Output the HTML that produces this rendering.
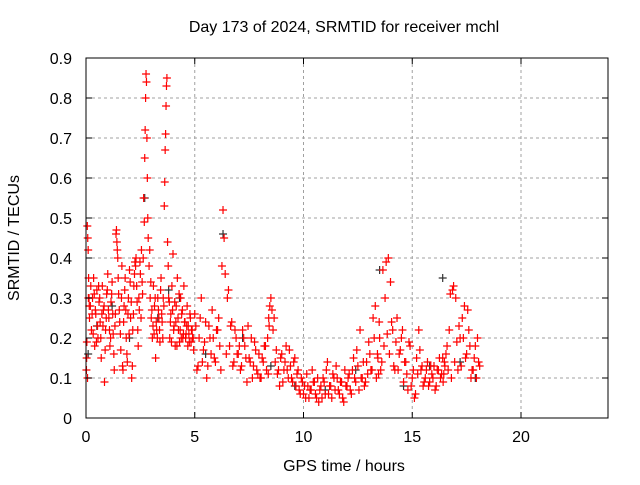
<!DOCTYPE html>
<html><head><meta charset="utf-8"><style>
body{margin:0;background:#fff;font-family:"Liberation Sans",sans-serif;}
svg text{font-family:"Liberation Sans",sans-serif;font-size:16px;fill:#000;}
</style></head><body>
<svg id="chart" width="640" height="480" xmlns="http://www.w3.org/2000/svg">
<rect width="640" height="480" fill="#fff"/>
<text x="344" y="32" text-anchor="middle">Day 173 of 2024, SRMTID for receiver mchl</text>
<text transform="translate(19,238) rotate(-90)" text-anchor="middle">SRMTID / TECUs</text>
<text x="344" y="471" text-anchor="middle">GPS time / hours</text>
<g id="grid"></g><g id="marks"></g><g id="axes"></g>
</svg>
<script>
const xTicks=[0,5,10,15,20];
const yTicks=[0,0.1,0.2,0.3,0.4,0.5,0.6,0.7,0.8,0.9];
const yTickLabels=["0","0.1","0.2","0.3","0.4","0.5","0.6","0.7","0.8","0.9"];
const redTimes=[0.02,0.04,0.06,0.08,0.1,0.12,0.14,0.16,0.2,0.25,0.3,0.35,0.4,0.45,0.5,0.55,0.6,0.65,0.7,0.75,0.8,0.85,0.9,0.95,1.0,1.05,1.1,1.15,1.2,1.25,1.3,1.35,1.4,1.42,1.44,1.46,1.5,1.55,1.6,1.65,1.7,1.75,1.8,1.85,1.9,1.95,2.0,2.05,2.1,2.15,2.2,2.25,2.3,2.35,2.4,2.45,2.5,2.55,2.6,2.65,2.7,2.72,2.74,2.76,2.78,2.8,2.82,2.84,2.86,2.9,2.95,3.0,3.05,3.1,3.15,3.2,3.25,3.3,3.35,3.4,3.45,3.5,3.55,3.6,3.62,3.64,3.66,3.68,3.7,3.72,3.75,3.8,3.85,3.9,3.95,4.0,4.05,4.1,4.15,4.2,4.25,4.3,4.35,4.4,4.45,4.5,4.55,4.6,4.65,4.7,4.75,4.8,4.85,4.9,4.95,5.0,5.1,5.2,5.3,5.4,5.5,5.6,5.7,5.8,5.9,6.0,6.1,6.2,6.25,6.3,6.35,6.4,6.5,6.6,6.7,6.8,6.9,7.0,7.1,7.2,7.3,7.4,7.5,7.6,7.7,7.8,7.9,8.0,8.1,8.2,8.3,8.35,8.4,8.45,8.5,8.6,8.7,8.8,8.9,9.0,9.1,9.2,9.3,9.4,9.5,9.6,9.7,9.8,9.9,10.0,10.1,10.2,10.3,10.4,10.5,10.6,10.7,10.8,10.9,11.0,11.1,11.2,11.3,11.4,11.5,11.6,11.7,11.8,11.9,12.0,12.1,12.2,12.3,12.4,12.5,12.6,12.7,12.8,12.9,13.0,13.1,13.2,13.3,13.4,13.45,13.5,13.6,13.7,13.8,13.9,14.0,14.1,14.2,14.3,14.4,14.5,14.6,14.7,14.8,14.9,15.0,15.1,15.2,15.3,15.4,15.5,15.6,15.7,15.8,15.9,16.0,16.1,16.2,16.3,16.4,16.45,16.5,16.6,16.7,16.8,16.9,17.0,17.1,17.2,17.3,17.4,17.5,17.6,17.7,17.8,17.9,18.0,18.1];
const redValues=[0.12,0.19,0.48,0.45,0.42,0.35,0.3,0.25,0.28,0.22,0.3,0.35,0.18,0.26,0.32,0.2,0.29,0.24,0.15,0.33,0.27,0.09,0.22,0.31,0.36,0.25,0.18,0.29,0.34,0.21,0.12,0.26,0.47,0.44,0.42,0.4,0.31,0.24,0.17,0.38,0.12,0.28,0.35,0.2,0.14,0.3,0.37,0.25,0.1,0.22,0.33,0.39,0.4,0.29,0.18,0.27,0.36,0.42,0.31,0.55,0.65,0.72,0.8,0.86,0.84,0.7,0.6,0.5,0.45,0.38,0.3,0.25,0.2,0.33,0.28,0.15,0.22,0.3,0.25,0.19,0.35,0.24,0.3,0.53,0.59,0.67,0.71,0.78,0.83,0.85,0.44,0.3,0.2,0.26,0.33,0.41,0.23,0.18,0.28,0.35,0.22,0.19,0.3,0.26,0.2,0.33,0.24,0.21,0.28,0.23,0.19,0.25,0.22,0.2,0.17,0.26,0.12,0.2,0.3,0.17,0.24,0.13,0.2,0.27,0.15,0.22,0.25,0.12,0.38,0.52,0.45,0.36,0.3,0.18,0.24,0.14,0.2,0.16,0.12,0.22,0.18,0.09,0.15,0.2,0.13,0.17,0.11,0.1,0.15,0.18,0.12,0.2,0.25,0.28,0.3,0.22,0.14,0.11,0.08,0.16,0.12,0.18,0.1,0.13,0.09,0.15,0.11,0.07,0.1,0.06,0.05,0.08,0.07,0.12,0.09,0.05,0.04,0.08,0.1,0.06,0.14,0.08,0.05,0.1,0.13,0.07,0.09,0.05,0.12,0.08,0.11,0.06,0.15,0.09,0.13,0.22,0.1,0.08,0.14,0.19,0.12,0.25,0.28,0.16,0.11,0.2,0.14,0.18,0.39,0.4,0.34,0.22,0.12,0.25,0.16,0.2,0.09,0.14,0.07,0.18,0.1,0.05,0.15,0.22,0.12,0.08,0.1,0.14,0.09,0.11,0.13,0.08,0.12,0.1,0.15,0.11,0.13,0.18,0.22,0.1,0.33,0.3,0.12,0.2,0.25,0.28,0.16,0.22,0.1,0.12,0.18,0.2,0.13,0.09,0.11,0.12,0.1,0.09];
const red2Times=[0.03,0.07,0.11,0.15,0.22,0.28,0.33,0.38,0.43,0.48,0.53,0.58,0.63,0.68,0.73,0.78,0.83,0.88,0.93,0.98,1.03,1.08,1.13,1.18,1.23,1.28,1.33,1.38,1.48,1.53,1.58,1.63,1.68,1.73,1.78,1.83,1.88,1.93,1.98,2.03,2.08,2.13,2.18,2.23,2.28,2.33,2.38,2.43,2.48,2.53,2.58,2.63,2.68,2.93,2.98,3.03,3.08,3.13,3.18,3.23,3.28,3.33,3.38,3.43,3.48,3.53,3.58,3.78,3.83,3.88,3.93,3.98,4.03,4.08,4.13,4.18,4.23,4.28,4.33,4.38,4.43,4.48,4.53,4.58,4.63,4.68,4.73,4.78,4.83,4.88,4.93,5.05,5.15,5.25,5.35,5.45,5.55,5.65,5.75,5.85,5.95,6.05,6.15,6.45,6.55,6.65,6.75,6.85,6.95,7.05,7.15,7.25,7.35,7.45,7.55,7.65,7.75,7.85,7.95,8.05,8.15,8.25,8.38,8.42,8.55,8.65,8.75,8.85,8.95,9.05,9.15,9.25,9.35,9.45,9.55,9.65,9.75,9.85,9.95,10.05,10.15,10.25,10.35,10.45,10.55,10.65,10.75,10.85,10.95,11.05,11.15,11.25,11.35,11.45,11.55,11.65,11.75,11.85,11.95,12.05,12.15,12.25,12.35,12.45,12.55,12.65,12.75,12.85,12.95,13.05,13.15,13.25,13.35,13.42,13.48,13.55,13.65,13.75,13.85,13.95,14.05,14.15,14.25,14.35,14.45,14.55,14.65,14.75,14.85,14.95,15.05,15.15,15.25,15.35,15.45,15.55,15.65,15.75,15.85,15.95,16.05,16.15,16.25,16.35,16.42,16.48,16.55,16.65,16.75,16.85,16.95,17.05,17.15,17.25,17.35,17.45,17.55,17.65,17.75,17.85,17.95,18.05];
const red2Values=[0.15,0.1,0.3,0.28,0.33,0.26,0.21,0.31,0.27,0.19,0.23,0.33,0.3,0.2,0.26,0.23,0.28,0.17,0.25,0.32,0.27,0.22,0.2,0.31,0.26,0.16,0.23,0.46,0.35,0.27,0.21,0.3,0.13,0.24,0.32,0.27,0.16,0.26,0.21,0.34,0.29,0.13,0.26,0.36,0.38,0.33,0.22,0.3,0.39,0.25,0.34,0.4,0.49,0.42,0.34,0.27,0.23,0.21,0.3,0.24,0.2,0.27,0.22,0.32,0.26,0.2,0.28,0.38,0.29,0.24,0.19,0.27,0.22,0.29,0.24,0.18,0.25,0.31,0.22,0.2,0.27,0.21,0.24,0.2,0.23,0.18,0.21,0.26,0.19,0.22,0.2,0.23,0.13,0.25,0.14,0.19,0.1,0.23,0.16,0.2,0.14,0.22,0.18,0.16,0.32,0.23,0.13,0.22,0.16,0.18,0.13,0.2,0.15,0.23,0.14,0.1,0.19,0.12,0.16,0.1,0.14,0.18,0.11,0.23,0.27,0.25,0.17,0.12,0.15,0.09,0.14,0.12,0.17,0.1,0.14,0.08,0.12,0.06,0.09,0.08,0.11,0.05,0.07,0.09,0.06,0.1,0.07,0.05,0.09,0.12,0.06,0.08,0.11,0.07,0.1,0.06,0.09,0.04,0.08,0.1,0.07,0.12,0.1,0.17,0.07,0.1,0.14,0.09,0.11,0.16,0.12,0.2,0.1,0.15,0.24,0.12,0.37,0.3,0.21,0.16,0.24,0.13,0.19,0.12,0.17,0.22,0.14,0.11,0.19,0.08,0.12,0.06,0.11,0.17,0.13,0.09,0.12,0.08,0.13,0.1,0.07,0.12,0.15,0.11,0.09,0.14,0.16,0.12,0.31,0.32,0.14,0.19,0.23,0.13,0.2,0.15,0.27,0.18,0.12,0.15,0.1,0.14,0.08,0.13,0.11];
const blackTimes=[0.1,0.5,1.2,2.0,2.7,3.3,3.8,4.3,5.5,6.3,7.2,8.5,9.6,11.0,12.4,13.5,14.6,15.8,16.4,17.2,17.9];
const blackValues=[0.16,0.23,0.28,0.2,0.55,0.25,0.32,0.3,0.16,0.46,0.2,0.13,0.08,0.07,0.12,0.37,0.08,0.13,0.35,0.14,0.1];
const X0=86,X1=608,Y0=418,Y1=58,XMAX=24,YMAX=0.9;
const xs=v=>X0+(X1-X0)*v/XMAX, ys=v=>Y0-(Y0-Y1)*v/YMAX;
const NS="http://www.w3.org/2000/svg";
function mk(t,a,p){const e=document.createElementNS(NS,t);for(const k in a)e.setAttribute(k,a[k]);p.appendChild(e);return e;}
const grid=document.getElementById('grid'),marks=document.getElementById('marks'),axes=document.getElementById('axes');
xTicks.forEach(t=>{const x=xs(t);
 if(t>0){const g=mk('line',{x1:x,x2:x,y1:Y1,y2:Y0,stroke:'#a0a0a0','stroke-dasharray':'3,3'},grid);
 
 }
 const l=mk('text',{x:x,y:Y0+24,'text-anchor':'middle'},axes);l.textContent=t;
 
 
 mk('line',{x1:x,x2:x,y1:Y0,y2:Y0-6,stroke:'#000'},axes);mk('line',{x1:x,x2:x,y1:Y1,y2:Y1+6,stroke:'#000'},axes);});
yTicks.forEach((t,i)=>{const y=ys(t);
 if(t>0&&t<0.9){const g=mk('line',{x1:X0,x2:X1,y1:y,y2:y,stroke:'#a0a0a0','stroke-dasharray':'3,3'},grid);
 
 }
 const l=mk('text',{x:X0-14,y:y+6,'text-anchor':'end'},axes);l.textContent=yTickLabels[i];
 
 
 mk('line',{x1:X0,x2:X0+6,y1:y,y2:y,stroke:'#000'},axes);mk('line',{x1:X1,x2:X1-6,y1:y,y2:y,stroke:'#000'},axes);});
const fr=mk('rect',{x:X0,y:Y1,width:X1-X0,height:Y0-Y1,fill:'none',stroke:'#000'},axes);


function plus(t,v,c,name){const x=xs(t),y=ys(v);
 const p=mk('path',{d:`M${x-4},${y}H${x+4}M${x},${y-4}V${y+4}`,stroke:c,'stroke-width':1.2,fill:'none'},marks);
 
 }
blackTimes.forEach((t,i)=>plus(t,blackValues[i],'#333','black-point'));
redTimes.forEach((t,i)=>plus(t,redValues[i],'#f00','red-point'));
red2Times.forEach((t,i)=>plus(t,red2Values[i],'#f00','red-point'));
</script>
</body></html>
